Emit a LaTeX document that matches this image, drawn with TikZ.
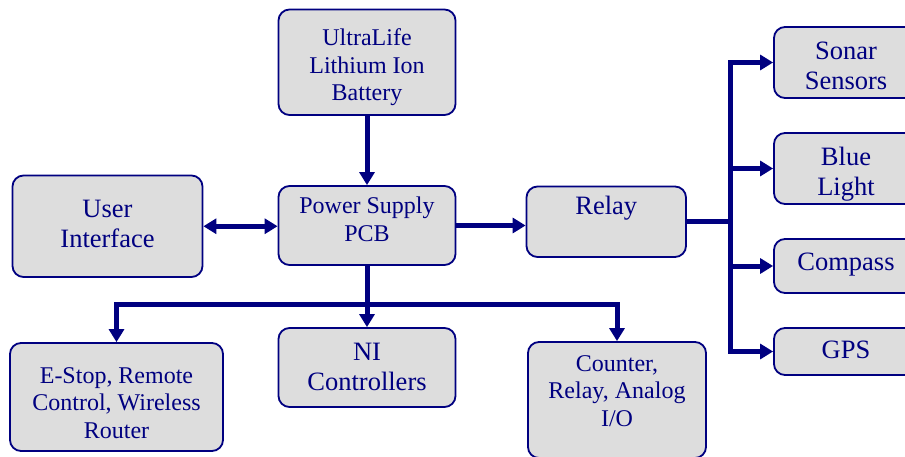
\documentclass[tikz,border=0pt]{standalone}
\usepackage{fontspec}
\setmainfont{Liberation Serif}
\usetikzlibrary{arrows.meta,calc}
\definecolor{navy}{RGB}{0,0,128}
\definecolor{boxgray}{RGB}{221,221,221}
\begin{document}
\begin{tikzpicture}[x=1pt,y=-1pt,
  box/.style={draw=navy,fill=boxgray,line width=1.8pt,rounded corners=11pt,inner sep=0pt,anchor=center},
  txt/.style={text=navy,align=center,inner sep=0pt,anchor=center},
  small/.style={font=\rmfamily\fontsize{24}{27.5}\selectfont},
  large/.style={font=\rmfamily\fontsize{26.5}{30}\selectfont},
  conn/.style={draw=navy,line width=5pt},
  arr/.style={conn,-{Triangle[length=13pt,width=15pt]}},
  dblarr/.style={conn,{Triangle[length=13pt,width=15pt]}-{Triangle[length=13pt,width=15pt]}}]
\useasboundingbox (0,0) rectangle (905,457);
\clip (0,0) rectangle (905,457);
\node[box,minimum width=177pt,minimum height=105.5pt] (bat) at (367,62.25) {};
\node[box,minimum width=190pt,minimum height=101.5pt] (ui) at (107.5,226.25) {};
\node[box,minimum width=177pt,minimum height=79pt] (pcb) at (367,225.5) {};
\node[box,minimum width=159.5pt,minimum height=70.5pt] (relay) at (606.25,221.75) {};
\node[box,minimum width=144pt,minimum height=71pt] (sonar) at (846,62.5) {};
\node[box,minimum width=144pt,minimum height=71pt] (blue) at (846,168.5) {};
\node[box,minimum width=144pt,minimum height=54pt] (compass) at (846,266) {};
\node[box,minimum width=144pt,minimum height=47pt] (gps) at (846,351.5) {};
\node[box,minimum width=213pt,minimum height=108pt] (estop) at (116.5,397) {};
\node[box,minimum width=177pt,minimum height=79pt] (ni) at (367,367.5) {};
\node[box,minimum width=178pt,minimum height=116pt] (counter) at (617,400) {};
% texts
\node[txt,small] (batT) at ($(bat.center)+(0,5)$) {UltraLife\\Lithium Ion\\Battery};
\node[txt,large] (uiT) at ($(ui.center)+(0,-2)$) {User\\Interface};
\node[txt,small] (pcbT) at ($(pcb.center)+(0,-6)$) {Power Supply\\PCB};
\node[txt,large] (relayT) at ($(relay.center)+(0,-14)$) {Relay};
\node[txt,large] (sonarT) at ($(sonar.center)+(0,3)$) {Sonar\\Sensors};
\node[txt,large] (blueT) at ($(blue.center)+(0,6)$) {Blue\\Light};
\node[txt,large] (compassT) at ($(compass.center)+(0,-1)$) {Compass};
\node[txt,large] (gpsT) at ($(gps.center)+(0,-2)$) {GPS};
\node[txt,small] (estopT) at ($(estop.center)+(0,6)$) {E-Stop, Remote\\Control, Wireless\\Router};
\node[txt,large] (niT) at ($(ni.center)+(0,-1)$) {NI\\Controllers};
\node[txt,small] (counterT) at ($(counter.center)+(0,-9)$) {Counter,\\Relay, Analog\\I/O};
% top connections
\draw[arr] (bat) -- (pcb);
\draw[dblarr] (ui.east) -- (ui.east -| pcb.west);
\draw[arr] (pcb.east) -- (pcb.east -| relay.west);
% relay fan-out
\coordinate (bus) at (730,221.75);
\draw[conn] (relay.east) -- (bus);
\draw[arr,line join=miter] (bus |- sonar.west) -- (bus |- gps.west) -- (gps.west);
\draw[arr,line join=miter] (bus) -- (bus |- sonar.west) -- (sonar.west);
\draw[arr] (bus |- blue.west) -- (blue.west);
\draw[arr] (bus |- compass.west) -- (compass.west);
% bottom fan-out
\coordinate (hb) at (367,304);
\draw[arr] (pcb.south) -- (ni.north);
\draw[arr,line join=miter] (hb) -| (estop.north);
\draw[arr,line join=miter] (hb) -| (counter.north);
\end{tikzpicture}
\end{document}
